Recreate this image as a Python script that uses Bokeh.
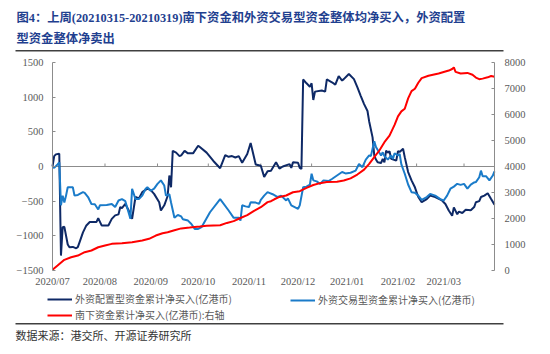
import math
import pandas as pd
from bokeh.plotting import figure
from bokeh.models import (Range1d, LinearAxis, DatetimeAxis, FixedTicker, Label, Legend,
                          LegendItem, BoxAnnotation)
from bokeh.embed import file_html
from bokeh.resources import INLINE

# ---------------- data ----------------
navy_dates = ["2020-07-01", "2020-07-02", "2020-07-03", "2020-07-05", "2020-07-06", "2020-07-07",
              "2020-07-08", "2020-07-10", "2020-07-11", "2020-07-13", "2020-07-15", "2020-07-16",
              "2020-07-17", "2020-07-19", "2020-07-21", "2020-07-23", "2020-07-27", "2020-07-28",
              "2020-07-30", "2020-08-03", "2020-08-05", "2020-08-07", "2020-08-09", "2020-08-10",
              "2020-08-11", "2020-08-13", "2020-08-15", "2020-08-17", "2020-08-19", "2020-08-21",
              "2020-08-23", "2020-08-26", "2020-08-28", "2020-08-30", "2020-09-02", "2020-09-03",
              "2020-09-05", "2020-09-07", "2020-09-08", "2020-09-09", "2020-09-10", "2020-09-12",
              "2020-09-14", "2020-09-15", "2020-09-17", "2020-09-19", "2020-09-22", "2020-09-25",
              "2020-09-26", "2020-09-30", "2020-10-04", "2020-10-08", "2020-10-11", "2020-10-13",
              "2020-10-15", "2020-10-17", "2020-10-19", "2020-10-21", "2020-10-24", "2020-10-26",
              "2020-10-29", "2020-11-01", "2020-11-03", "2020-11-05", "2020-11-07", "2020-11-10",
              "2020-11-12", "2020-11-14", "2020-11-18", "2020-11-19", "2020-11-20", "2020-11-23",
              "2020-11-24", "2020-11-25", "2020-11-26", "2020-11-28", "2020-11-30", "2020-12-01",
              "2020-12-02", "2020-12-03", "2020-12-07", "2020-12-09", "2020-12-10", "2020-12-13",
              "2020-12-15", "2020-12-17", "2020-12-19", "2020-12-20", "2020-12-23", "2020-12-26",
              "2020-12-28", "2020-12-30", "2021-01-01", "2021-01-03", "2021-01-04", "2021-01-06",
              "2021-01-07", "2021-01-08", "2021-01-09", "2021-01-11", "2021-01-12", "2021-01-13",
              "2021-01-14", "2021-01-15", "2021-01-16", "2021-01-17", "2021-01-20", "2021-01-21",
              "2021-01-22", "2021-01-24", "2021-01-25", "2021-01-27", "2021-01-29", "2021-01-31",
              "2021-02-02", "2021-02-04", "2021-02-07", "2021-02-09", "2021-02-12", "2021-02-16",
              "2021-02-18", "2021-02-20", "2021-02-22", "2021-02-23", "2021-02-25", "2021-02-26",
              "2021-02-28", "2021-03-02", "2021-03-05", "2021-03-07", "2021-03-08", "2021-03-10",
              "2021-03-11", "2021-03-13", "2021-03-15", "2021-03-17", "2021-03-19"]
navy_values = [0, 150, 175, 185, -1285, -875,
               -870, -1125, -1165, -1160, -1180, -1160,
               -1090, -950, -850, -800, -800, -745,
               -850, -850, -755, -705, -690, -585,
               -600, -540, -635, -755, -440, -460,
               -370, -320, -340, -395, -515, -635,
               -560, -425, -130, -300, 225, 200,
               150, 160, 225, 190, 190, 300,
               280, 200, 80, -25, 165, 140,
               150, 130, 150, 55, 180, 340,
               30, 10, -150, -70, -60, 60,
               -30, 0, 35, -20, 60, 55,
               -20, -35, 1255, 1200, 1150, 1200,
               960, 1080, 1095, 1080, 1255, 1215,
               1180, 1305, 1240, 1260, 1335, 1260,
               1145, 1020, 900, 800, 650, 420,
               160, 100, 60, 50, 110, 60,
               230, 200, 220, 110, 85, 220,
               210, 255, 135, -80, -200, -300,
               -440, -515, -470, -420, -440, -490,
               -540, -635, -710, -590, -690, -650,
               -670, -625, -630, -585, -515, -500,
               -440, -420, -385, -470, -550]

blue_dates = ["2020-07-01", "2020-07-02", "2020-07-04", "2020-07-05", "2020-07-06", "2020-07-07",
              "2020-07-08", "2020-07-09", "2020-07-10", "2020-07-13", "2020-07-14", "2020-07-16",
              "2020-07-19", "2020-07-20", "2020-07-22", "2020-07-24", "2020-07-26", "2020-07-28",
              "2020-07-29", "2020-08-02", "2020-08-05", "2020-08-07", "2020-08-09", "2020-08-11",
              "2020-08-13", "2020-08-14", "2020-08-16", "2020-08-17", "2020-08-19", "2020-08-21",
              "2020-08-23", "2020-08-25", "2020-08-26", "2020-08-28", "2020-08-30", "2020-09-01",
              "2020-09-03", "2020-09-05", "2020-09-06", "2020-09-08", "2020-09-09", "2020-09-11",
              "2020-09-13", "2020-09-15", "2020-09-16", "2020-09-19", "2020-09-21", "2020-09-23",
              "2020-09-25", "2020-09-27", "2020-10-02", "2020-10-08", "2020-10-13", "2020-10-16",
              "2020-10-19", "2020-10-20", "2020-10-21", "2020-10-23", "2020-10-25", "2020-10-26",
              "2020-10-29", "2020-10-31", "2020-11-01", "2020-11-03", "2020-11-05", "2020-11-06",
              "2020-11-08", "2020-11-11", "2020-11-13", "2020-11-16", "2020-11-17", "2020-11-19",
              "2020-11-21", "2020-11-23", "2020-11-24", "2020-11-26", "2020-11-28", "2020-11-30",
              "2020-12-01", "2020-12-02", "2020-12-04", "2020-12-06", "2020-12-08", "2020-12-11",
              "2020-12-13", "2020-12-16", "2020-12-19", "2020-12-21", "2020-12-24", "2020-12-27",
              "2020-12-29", "2020-12-31", "2021-01-02", "2021-01-04", "2021-01-05", "2021-01-07",
              "2021-01-08", "2021-01-11", "2021-01-12", "2021-01-13", "2021-01-15", "2021-01-17",
              "2021-01-18", "2021-01-19", "2021-01-21", "2021-01-22", "2021-01-23", "2021-01-25",
              "2021-01-27", "2021-01-29", "2021-01-31", "2021-02-02", "2021-02-04", "2021-02-07",
              "2021-02-09", "2021-02-12", "2021-02-15", "2021-02-17", "2021-02-19", "2021-02-21",
              "2021-02-23", "2021-02-25", "2021-02-27", "2021-03-01", "2021-03-03", "2021-03-05",
              "2021-03-07", "2021-03-08", "2021-03-10", "2021-03-11", "2021-03-12", "2021-03-14",
              "2021-03-16", "2021-03-18", "2021-03-19"]
blue_values = [0, -20, 30, 60, -560, -420,
               -520, -420, -300, -300, -420, -410,
               -370, -380, -440, -540, -545, -620,
               -560, -555, -540, -585, -490, -470,
               -500, -585, -755, -320, -470, -470,
               -420, -320, -300, -350, -320, -250,
               -200, -275, -420, -400, -520, -740,
               -700, -720, -760, -780, -830, -900,
               -900, -875, -660, -470, -635, -740,
               -740, -780, -560, -575, -585, -515,
               -520, -540, -480, -420, -370, -380,
               -400, -440, -420, -490, -460, -560,
               -585, -610, -560, -300, -290, -260,
               -105, -200, -215, -250, -200, -210,
               -180, -130, -80, -100, -90, -60,
               35, -10, 100, 160, 150, 365,
               280, 160, 205, 150, 100, 160,
               110, 190, 160, 180, 30, -105,
               -260, -370, -380, -420, -480, -440,
               -395, -420, -470, -490, -420, -320,
               -290, -250, -265, -250, -320, -260,
               -230, -225, -155, -60, -140, -140,
               -200, -130, -70]

red_dates = ["2020-07-01", "2020-07-04", "2020-07-08", "2020-07-12", "2020-07-16", "2020-07-20",
             "2020-07-24", "2020-07-28", "2020-08-01", "2020-08-05", "2020-08-11", "2020-08-17",
             "2020-08-23", "2020-08-27", "2020-08-31", "2020-09-04", "2020-09-07", "2020-09-11",
             "2020-09-15", "2020-09-20", "2020-09-26", "2020-09-30", "2020-10-08", "2020-10-12",
             "2020-10-16", "2020-10-20", "2020-10-24", "2020-10-28", "2020-11-01", "2020-11-05",
             "2020-11-07", "2020-11-09", "2020-11-12", "2020-11-16", "2020-11-20", "2020-11-24",
             "2020-11-28", "2020-12-02", "2020-12-06", "2020-12-10", "2020-12-16", "2020-12-20",
             "2020-12-24", "2020-12-28", "2021-01-01", "2021-01-04", "2021-01-07", "2021-01-10",
             "2021-01-13", "2021-01-16", "2021-01-19", "2021-01-21", "2021-01-23", "2021-01-25",
             "2021-01-27", "2021-01-29", "2021-01-31", "2021-02-02", "2021-02-04", "2021-02-08",
             "2021-02-14", "2021-02-20", "2021-02-22", "2021-02-23", "2021-02-24", "2021-02-27",
             "2021-03-03", "2021-03-06", "2021-03-08", "2021-03-10", "2021-03-12", "2021-03-15",
             "2021-03-17", "2021-03-19"]
red_values = [30, 190, 410, 510, 575, 705,
              770, 895, 960, 1025, 1050, 1090,
              1155, 1220, 1345, 1435, 1470, 1550,
              1620, 1650, 1690, 1720, 1740, 1830,
              1900, 2020, 2130, 2290, 2435, 2630,
              2665, 2740, 2830, 2885, 3010, 3050,
              3180, 3290, 3360, 3400, 3410, 3460,
              3545, 3690, 3880, 4100, 4360, 4615,
              4935, 5190, 5600, 5930, 6120, 6220,
              6620, 6900, 6990, 7220, 7400, 7490,
              7580, 7690, 7750, 7810, 7640, 7580,
              7600, 7530, 7420, 7360, 7380, 7430,
              7480, 7450]

left_ticks = [-1500, -1000, -500, 0, 500, 1000, 1500]
right_ticks = [0, 1000, 2000, 3000, 4000, 5000, 6000, 7000, 8000]
month_starts = ["2020-08-01", "2020-09-01", "2020-10-01", "2020-11-01", "2020-12-01",
                "2021-01-01", "2021-02-01", "2021-03-01"]
x_label_dates = ["2020-07-01", "2020-07-29", "2020-08-28", "2020-09-25", "2020-10-25",
                 "2020-11-23", "2020-12-22", "2021-01-21", "2021-02-17"]
x_labels = ["2020/07", "2020/08", "2020/09", "2020/10", "2020/11", "2020/12",
            "2021/01", "2021/02", "2021/03"]

title_line1 = "图4：上周(20210315-20210319)南下资金和外资交易型资金整体均净买入，外资配置"
title_line2 = "型资金整体净卖出"
name_navy = "外资配置型资金累计净买入(亿港币)"
name_blue = "外资交易型资金累计净买入(亿港币)"
name_red = "南下资金累计净买入(亿港币):右轴"
source_text = "数据来源：港交所、开源证券研究所"


def ms(s):
    return int(pd.Timestamp(s).value // 10**6)


# ---------------- layout constants (pixels) ----------------
W, H = 550, 354
FL, FR, FT, FB = 52, 494, 62, 270   # plot area inside the canvas
X0, X1 = ms("2020-07-01"), ms("2021-03-19")
L0, L1 = left_ticks[0], left_ticks[-1]
R0, R1 = right_ticks[0], right_ticks[-1]

xs = (FR - FL) / (X1 - X0)
ls = (FB - FT) / (L1 - L0)
rs = (FB - FT) / (R1 - R0)

NAVY = "#0E2966"
BLUE = "#1A7BC9"
RED = "#FF0000"
AXIS_GRAY = "#8C8C8C"
TICK_TEXT = "#595959"
TICK_FONT = "Liberation Serif"
CJK_FONT = "Noto Sans CJK SC"
TITLE_COLOR = "#1F3F8F"

p = figure(width=W, height=H, x_axis_type="datetime", output_backend="svg",
           toolbar_location=None, x_axis_location=None, y_axis_location=None,
           x_range=Range1d(X0 - FL / xs, X1 + (W - FR) / xs),
           y_range=Range1d(L0 - (H - FB) / ls, L1 + FT / ls),
           min_border=0, min_border_left=0, min_border_right=0,
           min_border_top=0, min_border_bottom=0)
p.title.visible = False
p.outline_line_color = None
p.grid.visible = False
p.background_fill_color = "white"
p.border_fill_color = "white"
p.extra_y_ranges = {"right": Range1d(R0 - (H - FB) / rs, R1 + FT / rs)}

# left axis
ya = LinearAxis(fixed_location=X0, bounds=(L0, L1), ticker=FixedTicker(ticks=left_ticks),
                axis_line_color=AXIS_GRAY, major_tick_line_color=AXIS_GRAY,
                minor_tick_line_color=None, major_tick_in=3, major_tick_out=0,
                major_label_standoff=9, major_label_text_font=TICK_FONT,
                major_label_text_font_size="10.5px", major_label_text_color=TICK_TEXT)
p.add_layout(ya, "left")

# right axis
ra = LinearAxis(y_range_name="right", fixed_location=X1, bounds=(R0, R1),
                ticker=FixedTicker(ticks=right_ticks),
                axis_line_color=AXIS_GRAY, major_tick_line_color=AXIS_GRAY,
                minor_tick_line_color=None, major_tick_in=3, major_tick_out=0,
                major_label_standoff=10, major_label_text_font=TICK_FONT,
                major_label_text_font_size="10.5px", major_label_text_color=TICK_TEXT)
p.add_layout(ra, "right")

# bottom labels
xa = DatetimeAxis(fixed_location=L0, bounds=(X0, X1),
                  ticker=FixedTicker(ticks=[ms(d) for d in x_label_dates]),
                  axis_line_color=None, major_tick_line_color=None, minor_tick_line_color=None,
                  major_tick_in=0, major_tick_out=0, major_label_standoff=5,
                  major_label_text_font=TICK_FONT, major_label_text_font_size="10.5px",
                  major_label_text_color=TICK_TEXT)
xa.major_label_overrides = {ms(d): t for d, t in zip(x_label_dates, x_labels)}
p.add_layout(xa, "below")

# zero line with month ticks
p.segment(x0=[X0], y0=[0], x1=[X1], y1=[0], line_color=AXIS_GRAY, line_width=1)
p.ray(x=pd.to_datetime(month_starts), y=[0] * len(month_starts), length=3,
      length_units="screen", angle=math.pi / 2, line_color=AXIS_GRAY, line_width=1)

r_navy = p.line(pd.to_datetime(navy_dates), navy_values, line_color=NAVY, line_width=2)
r_blue = p.line(pd.to_datetime(blue_dates), blue_values, line_color=BLUE, line_width=2)
r_red = p.line(pd.to_datetime(red_dates), red_values, line_color=RED, line_width=2,
               y_range_name="right")

legend_style = dict(border_line_color=None, background_fill_alpha=0, padding=0, margin=0,
                    spacing=1, label_standoff=3, glyph_width=25, glyph_height=10,
                    label_height=10, label_text_font_size="10px", label_text_color=TICK_TEXT,
                    label_text_font=CJK_FONT, orientation="vertical")
leg_a = Legend(items=[LegendItem(label=name_navy, renderers=[r_navy]),
                      LegendItem(label=name_red, renderers=[r_red])],
               location=(47, 32), **legend_style)
leg_b = Legend(items=[LegendItem(label=name_blue, renderers=[r_blue])],
               location=(290, 47), **legend_style)
p.add_layout(leg_a)
p.add_layout(leg_b)

p.add_layout(Label(x=16, y=H - 17, x_units="screen", y_units="screen", text=title_line1,
                   text_font="Liberation Serif, Noto Sans CJK SC", text_font_style="bold",
                   text_font_size="12.3px", text_color=TITLE_COLOR, text_baseline="middle"))
p.add_layout(Label(x=16, y=H - 38, x_units="screen", y_units="screen", text=title_line2,
                   text_font="Liberation Serif, Noto Sans CJK SC", text_font_style="bold",
                   text_font_size="12.3px", text_color=TITLE_COLOR, text_baseline="middle"))

# rules
for ry in (50, 323):
    p.add_layout(BoxAnnotation(left=15, right=503, bottom=H - ry - 1, top=H - ry + 0.5,
                               left_units="screen", right_units="screen",
                               bottom_units="screen", top_units="screen",
                               fill_color="#404040", fill_alpha=1, line_color=None,
                               editable=False))

p.add_layout(Label(x=15, y=H - 334, x_units="screen", y_units="screen", text=source_text,
                   text_font=CJK_FONT, text_font_size="11px", text_color="#333333",
                   text_baseline="middle"))

open("out.html", "w").write(file_html(p, INLINE))
